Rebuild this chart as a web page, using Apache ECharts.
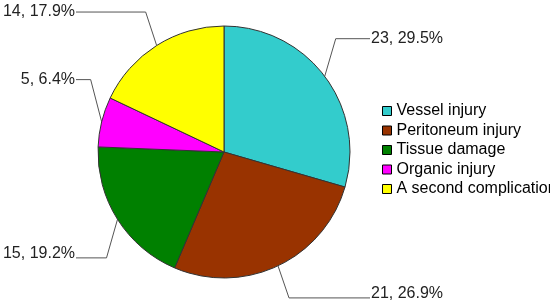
<!DOCTYPE html>
<html>
<head>
<meta charset="utf-8">
<script src="https://cdn.jsdelivr.net/npm/echarts@6/dist/echarts.min.js"></script>
<style>
  html, body { margin: 0; padding: 0; background: #fff; }
  #chart { width: 550px; height: 304px; }
</style>
</head>
<body>
<div id="chart"></div>
<script>
// Data
const categories = ['Vessel injury', 'Peritoneum injury', 'Tissue damage', 'Organic injury', 'A second complication'];
const counts = [23, 21, 15, 5, 14];
const sliceColors = ['#33CCCC', '#993300', '#008000', '#FF00FF', '#FFFF00'];

const total = counts.reduce((a, b) => a + b, 0);
const center = [224, 152];
const fontFamily = '"Liberation Sans", Arial, sans-serif';

const chart = echarts.init(document.getElementById('chart'), null, { renderer: 'canvas' });

chart.setOption({
  backgroundColor: '#fff',
  animation: false,
  legend: {
    orient: 'vertical',
    left: 382,
    top: 102,
    padding: 0,
    icon: 'rect',
    itemWidth: 9,
    itemHeight: 9,
    itemGap: 1.5,
    itemStyle: { borderColor: '#000', borderWidth: 1 },
    textStyle: {
      fontFamily: fontFamily,
      fontSize: 16,
      lineHeight: 18,
      color: '#000'
    },
    data: categories
  },
  series: [{
    type: 'pie',
    center: center,
    radius: 126,
    startAngle: 90,
    clockwise: true,
    data: categories.map((name, i) => ({
      name: name,
      value: counts[i],
      itemStyle: { color: sliceColors[i] }
    })),
    itemStyle: { borderColor: '#333', borderWidth: 1 },
    label: {
      show: true,
      formatter: p => p.value + ', ' + (p.value / total * 100).toFixed(1) + '%',
      fontFamily: fontFamily,
      fontSize: 16,
      color: '#222',
      overflow: 'none'
    },
    labelLine: {
      show: true,
      length: 20,
      length2: 20,
      lineStyle: { color: '#555', width: 1 }
    },
    // leader lines: short steep segment, then horizontal to a column on each side
    labelLayout: function (params) {
      const pts = params.labelLinePoints;
      if (!pts) return {};
      const x0 = pts[0][0], y0 = pts[0][1];
      const isLeft = x0 < center[0];
      const isUp = y0 < center[1];
      const ang = Math.atan2(Math.abs(y0 - center[1]), Math.abs(x0 - center[0])) * 180 / Math.PI;
      const rise = 45 - 0.2 * ang;
      const ex = x0 + (isLeft ? -11 : 11);
      const ey = y0 + (isUp ? -rise : rise);
      const endX = isLeft ? 76 : 370;
      return {
        x: isLeft ? endX - 1 : endX + 1,
        y: isUp ? ey : ey - 4,
        align: isLeft ? 'right' : 'left',
        verticalAlign: 'middle',
        labelLinePoints: [[x0, y0], [ex, ey], [endX, ey]]
      };
    }
  }]
});
</script>
</body>
</html>
